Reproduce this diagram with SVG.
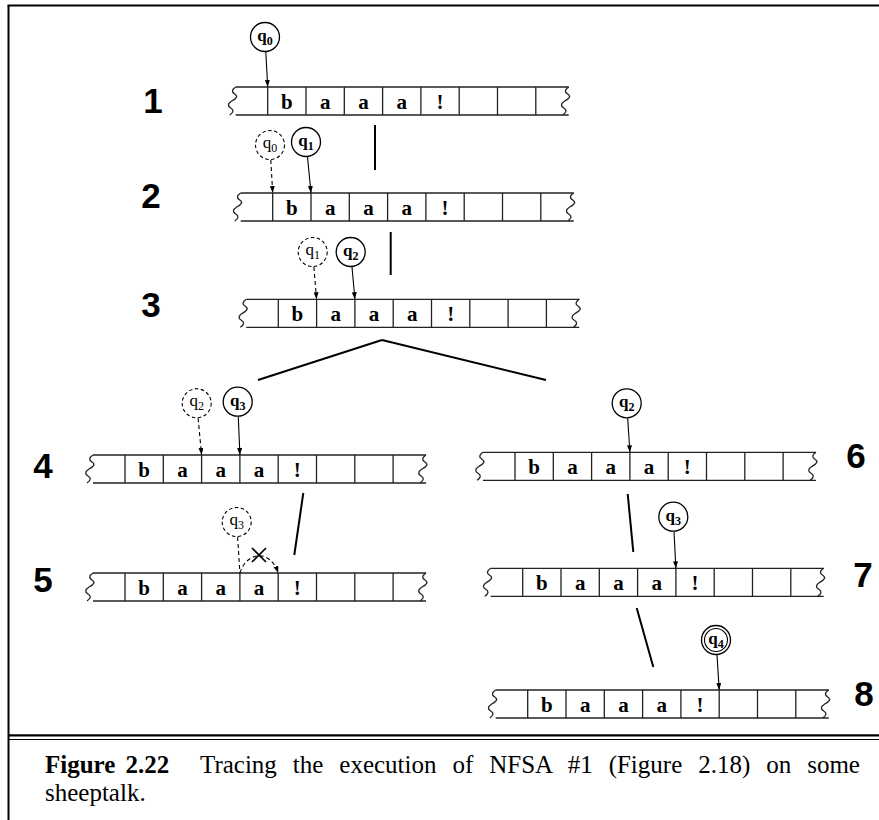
<svg xmlns="http://www.w3.org/2000/svg" xmlns:xlink="http://www.w3.org/1999/xlink" width="879" height="820" viewBox="0 0 879 820">
<style>
.frame{stroke:#000;fill:none}
.tl{stroke:#222;stroke-width:1.3;fill:none}
.cell{font-family:"Liberation Serif","Times New Roman",serif;font-weight:bold;font-size:21px;text-anchor:middle;fill:#000}
.lab{font-family:"Liberation Sans",Arial,sans-serif;font-weight:bold;font-size:35px;text-anchor:middle;fill:#000}
.st{fill:#fff;stroke:#000;stroke-width:1.3}
.std{fill:#fff;stroke:#000;stroke-width:1.1;stroke-dasharray:3.5,2.5}
.q{font-family:"Liberation Serif","Times New Roman",serif;font-size:17px;font-weight:bold;text-anchor:middle;fill:#000}
.qd{font-family:"Liberation Serif","Times New Roman",serif;font-size:17px;text-anchor:middle;fill:#000}
.sub{font-size:12px}
.ptr{stroke:#000;stroke-width:1.1;fill:none;marker-end:url(#ah)}
.ptrd{stroke:#000;stroke-width:1.1;fill:none;stroke-dasharray:4,3;marker-end:url(#ah)}
.br{stroke:#000;stroke-width:2;fill:none}
.cap{font-family:"Liberation Serif","Times New Roman",serif;font-size:25px;fill:#000}
</style>
<defs>
<marker id="ah" markerUnits="userSpaceOnUse" markerWidth="8" markerHeight="6" refX="7" refY="2.5" orient="auto">
<path d="M0,0 L7,2.5 L0,5 Z" fill="#000"/>
</marker>
<g id="tape">
<line class="tl" x1="-32" y1="0" x2="301" y2="0"/>
<line class="tl" x1="-32" y1="28" x2="301" y2="28"/>
<path class="tl" d="M-32,0 q-6,4 -1,7 q5,3 -3,7 q-6,4 -1,7 q5,3 -1,7"/>
<path class="tl" d="M301,0 q-6,4 -1,7 q5,3 -3,7 q-6,4 -1,7 q5,3 -1,7"/>
<path class="tl" d="M0,0 V28 M38.3,0 V28 M76.6,0 V28 M114.9,0 V28 M153.2,0 V28 M191.5,0 V28 M229.8,0 V28 M268.1,0 V28"/>
<text class="cell" x="19.15" y="21.5">b</text>
<text class="cell" x="57.45" y="21.5">a</text>
<text class="cell" x="95.75" y="21.5">a</text>
<text class="cell" x="134.05" y="21.5">a</text>
<text class="cell" x="172.35" y="21.5">!</text>
</g>
</defs>
<rect width="879" height="820" fill="#fff"/>
<g id="frame">
<line class="frame" x1="8.5" y1="5.5" x2="8.5" y2="820" stroke-width="2"/>
<line class="frame" x1="7.5" y1="5.5" x2="879" y2="5.5" stroke-width="2"/>
<line class="frame" x1="8.5" y1="735.3" x2="879" y2="735.3" stroke-width="2.2"/>
<line class="frame" x1="8.5" y1="739.5" x2="879" y2="739.5" stroke-width="1.1"/>
</g>
<g id="row1">
<use xlink:href="#tape" href="#tape" transform="translate(267.7,87)"/>
<text class="lab" x="153" y="113">1</text>
<line class="ptr" x1="265.8" y1="52" x2="267.7" y2="87"/>
<circle class="st" cx="265" cy="37" r="14.5"/>
<text class="q" x="265" y="41">q<tspan class="sub" dy="4">0</tspan></text>
</g>
<g id="row2">
<use xlink:href="#tape" href="#tape" transform="translate(272.7,193)"/>
<text class="lab" x="151" y="208">2</text>
<line class="ptrd" x1="270.8" y1="160" x2="272.7" y2="193"/>
<circle class="std" cx="270" cy="145" r="14.5"/>
<text class="qd" x="270" y="148">q<tspan class="sub" dy="4">0</tspan></text>
<line class="ptr" x1="307.5" y1="157" x2="311" y2="193"/>
<circle class="st" cx="306" cy="142" r="14.5"/>
<text class="q" x="306" y="146">q<tspan class="sub" dy="4">1</tspan></text>
</g>
<g id="row3">
<use xlink:href="#tape" href="#tape" transform="translate(278.3,299.3)"/>
<text class="lab" x="151" y="317">3</text>
<line class="ptrd" x1="313.9" y1="267" x2="316.6" y2="299.3"/>
<circle class="std" cx="312.7" cy="252" r="14.5"/>
<text class="qd" x="312.7" y="255">q<tspan class="sub" dy="4">1</tspan></text>
<line class="ptr" x1="352" y1="267" x2="354.9" y2="299.3"/>
<circle class="st" cx="350.7" cy="252" r="14.5"/>
<text class="q" x="350.7" y="256">q<tspan class="sub" dy="4">2</tspan></text>
</g>
<g id="row4">
<use xlink:href="#tape" href="#tape" transform="translate(125,455)"/>
<text class="lab" x="43" y="478">4</text>
<line class="ptrd" x1="198.1" y1="418.2" x2="201.6" y2="455"/>
<circle class="std" cx="196.7" cy="403.3" r="14.5"/>
<text class="qd" x="196.7" y="406.3">q<tspan class="sub" dy="4">2</tspan></text>
<line class="ptr" x1="238.3" y1="416.7" x2="239.9" y2="455"/>
<circle class="st" cx="237.7" cy="401.7" r="14.5"/>
<text class="q" x="237.7" y="405.7">q<tspan class="sub" dy="4">3</tspan></text>
</g>
<g id="row5">
<use xlink:href="#tape" href="#tape" transform="translate(125,573)"/>
<text class="lab" x="43" y="592">5</text>
<line x1="237.6" y1="537" x2="239.9" y2="573" stroke="#000" stroke-width="1.1" stroke-dasharray="4,3"/>
<path class="ptrd" d="M239.9,573 C247,551 270,549 278.2,573"/>
<path d="M252,548 L266,562 M252,562 L266,548" stroke="#000" stroke-width="1.7" fill="none"/>
<circle class="std" cx="236.7" cy="522" r="14.5"/>
<text class="qd" x="236.7" y="525">q<tspan class="sub" dy="4">3</tspan></text>
</g>
<g id="row6">
<use xlink:href="#tape" href="#tape" transform="translate(515,452.3)"/>
<text class="lab" x="856" y="468">6</text>
<line class="ptr" x1="627.7" y1="418.3" x2="629.9" y2="452.3"/>
<circle class="st" cx="626.7" cy="403.3" r="14.5"/>
<text class="q" x="626.7" y="407.3">q<tspan class="sub" dy="4">2</tspan></text>
</g>
<g id="row7">
<use xlink:href="#tape" href="#tape" transform="translate(522.7,568.3)"/>
<text class="lab" x="863" y="587">7</text>
<line class="ptr" x1="674" y1="531.7" x2="675.9" y2="568.3"/>
<circle class="st" cx="673.3" cy="516.7" r="14.5"/>
<text class="q" x="673.3" y="520.7">q<tspan class="sub" dy="4">3</tspan></text>
</g>
<g id="row8">
<use xlink:href="#tape" href="#tape" transform="translate(527.7,690)"/>
<text class="lab" x="864" y="706">8</text>
<line class="ptr" x1="717" y1="655" x2="719.2" y2="690"/>
<circle class="st" cx="716" cy="640" r="14.5"/>
<circle cx="716" cy="640" r="11.5" fill="none" stroke="#000" stroke-width="1.1"/>
<text class="q" x="716" y="644">q<tspan class="sub" dy="4">4</tspan></text>
</g>
<g id="connectors">
<line class="br" x1="375" y1="125" x2="375" y2="170"/>
<line class="br" x1="390.7" y1="232" x2="390.7" y2="275"/>
<line class="br" x1="382" y1="340" x2="258" y2="380"/>
<line class="br" x1="382" y1="340" x2="546" y2="380"/>
<line class="br" x1="303.3" y1="493" x2="294.3" y2="555"/>
<line class="br" x1="627.7" y1="494" x2="633.3" y2="552"/>
<line class="br" x1="636.7" y1="608" x2="653.3" y2="667"/>
</g>
<g id="caption">
<text class="cap" x="45" y="773"><tspan font-weight="bold" word-spacing="4">Figure 2.22</tspan></text>
<text class="cap" x="200" y="773" word-spacing="9.7">Tracing the execution of NFSA #1 (Figure 2.18) on some</text>
<text class="cap" x="45" y="801">sheeptalk.</text>
</g>
</svg>
